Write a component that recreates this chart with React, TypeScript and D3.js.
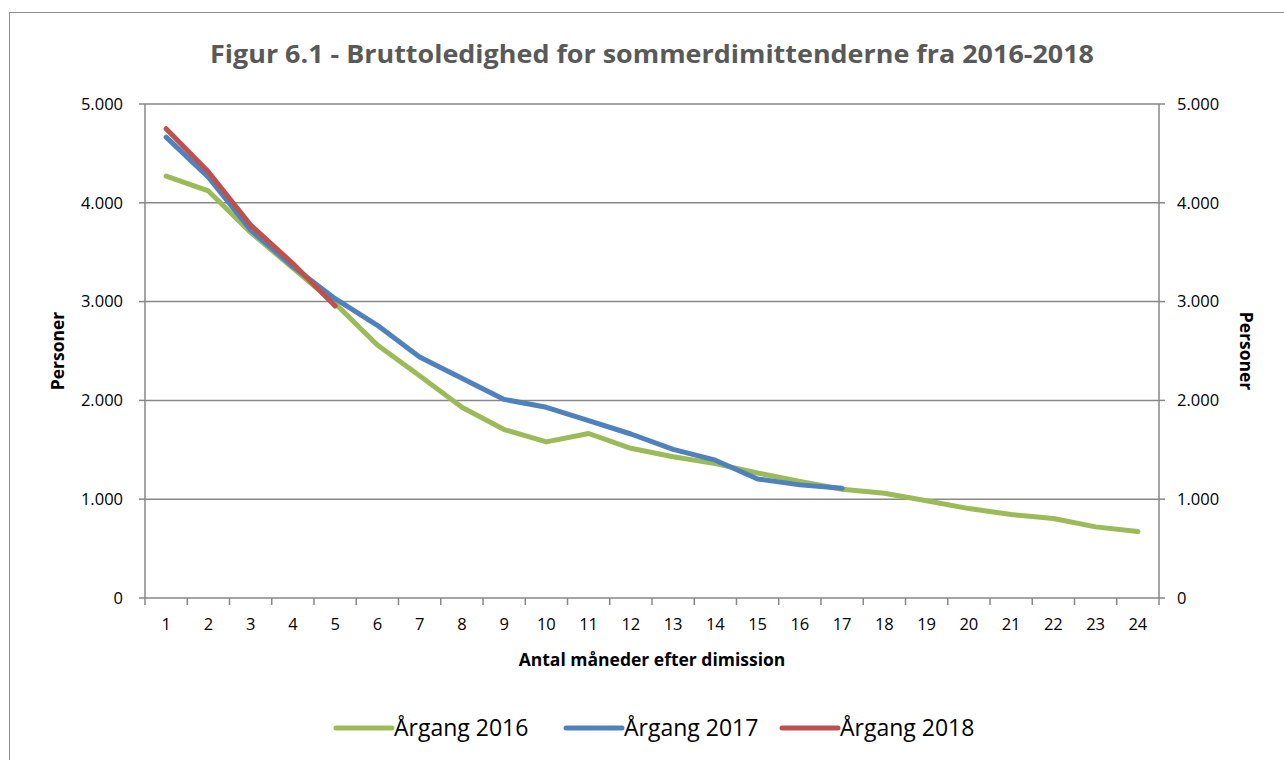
import React from 'react';
import * as d3 from 'd3';

// months after graduation
const months = d3.range(1, 25).map(String);

const aargang2016 = [4270, 4120, 3700, 3340, 2980, 2560, 2250, 1930, 1705, 1580, 1665, 1515, 1430, 1360, 1265, 1180, 1100, 1060, 985, 905, 845, 805, 720, 672];
const aargang2017 = [4665, 4260, 3725, 3355, 3030, 2760, 2440, 2225, 2010, 1930, 1795, 1660, 1505, 1395, 1205, 1145, 1110];
const aargang2018 = [4750, 4315, 3775, 3385, 2955];

const yTicks = [0, 1000, 2000, 3000, 4000, 5000];

const series = [
  { name: 'Årgang 2016', values: aargang2016, color: '#9BBB59' },
  { name: 'Årgang 2017', values: aargang2017, color: '#4F81BD' },
  { name: 'Årgang 2018', values: aargang2018, color: '#C0504D' },
];

const W = 1284;
const H = 760;
const left = 145;
const right = 1159;
const top = 104;
const bottom = 598;
const font = "'Open Sans', 'Noto Sans', sans-serif";
const grid = '#878787';

const fmt = (v: number) => (v === 0 ? '0' : d3.format(',')(v).replace(/,/g, '.'));

const App = () => {
  const x = d3.scaleBand().domain(months).range([left, right]);
  const y = d3.scaleLinear().domain([0, 5000]).range([bottom, top]);
  const cx = (i: number) => (x(months[i]) as number) + x.bandwidth() / 2;

  const line = d3
    .line<number>()
    .x((d, i) => cx(i))
    .y(d => y(d));

  const legendX = [336, 566, 782];

  return (
    <svg width={W} height={H} style={{ position: 'absolute', left: 0, top: 0, background: '#fff' }}>
      <rect x={9.5} y={12.5} width={1400} height={900} fill="#fff" stroke="#8c8c8c" strokeWidth={1} />

      <text x={652} y={63} textAnchor="middle" fontFamily={font} fontWeight="bold" fontSize={25}
        fill="#595959" textLength={884} lengthAdjust="spacingAndGlyphs">
        Figur 6.1 - Bruttoledighed for sommerdimittenderne fra 2016-2018
      </text>

      {/* gridlines */}
      {yTicks.filter(t => t > 0).map(t => (
        <line key={t} x1={left} x2={right} y1={y(t)} y2={y(t)} stroke={grid} strokeWidth={1.5} />
      ))}

      {/* axes */}
      <line x1={left} x2={left} y1={top} y2={bottom} stroke={grid} strokeWidth={1.5} />
      <line x1={right} x2={right} y1={top} y2={bottom} stroke={grid} strokeWidth={1.5} />
      <line x1={left} x2={right} y1={bottom} y2={bottom} stroke={grid} strokeWidth={1.5} />

      {yTicks.map(t => (
        <g key={t}>
          <line x1={left - 6} x2={left} y1={y(t)} y2={y(t)} stroke={grid} strokeWidth={1.5} />
          <line x1={right} x2={right + 6} y1={y(t)} y2={y(t)} stroke={grid} strokeWidth={1.5} />
          <text x={123} y={y(t)} dy="0.35em" textAnchor="end" fontFamily={font} fontSize={16.5} fill="#000">{fmt(t)}</text>
          <text x={1177} y={y(t)} dy="0.35em" textAnchor="start" fontFamily={font} fontSize={16.5} fill="#000">{fmt(t)}</text>
        </g>
      ))}

      {months.map((m, i) => (
        <g key={m}>
          <line x1={x(m)} x2={x(m)} y1={bottom} y2={bottom + 7} stroke={grid} strokeWidth={1.5} />
          <text x={cx(i)} y={630} textAnchor="middle" fontFamily={font} fontSize={16.5} fill="#000">{m}</text>
        </g>
      ))}
      <line x1={right} x2={right} y1={bottom} y2={bottom + 7} stroke={grid} strokeWidth={1.5} />

      <text x={652} y={666} textAnchor="middle" fontFamily={font} fontWeight="bold" fontSize={17.5} fill="#000">
        Antal måneder efter dimission
      </text>
      <text transform={`translate(64,${(top + bottom) / 2}) rotate(-90)`} textAnchor="middle" fontFamily={font}
        fontWeight="bold" fontSize={17.5} fill="#000">Personer</text>
      <text transform={`translate(1240,${(top + bottom) / 2}) rotate(90)`} textAnchor="middle" fontFamily={font}
        fontWeight="bold" fontSize={17.5} fill="#000">Personer</text>

      {/* lines */}
      {series.map(s => (
        <path key={s.name} d={line(s.values) as string} fill="none" stroke={s.color} strokeWidth={5}
          strokeLinejoin="round" strokeLinecap="round" />
      ))}

      {/* legend */}
      {series.map((s, i) => (
        <g key={s.name}>
          <line x1={legendX[i]} x2={legendX[i] + 56} y1={728} y2={728} stroke={s.color} strokeWidth={5} strokeLinecap="round" />
          <text x={legendX[i] + 58} y={728} dy="0.35em" fontFamily={font} fontSize={23} fill="#000">{s.name}</text>
        </g>
      ))}
    </svg>
  );
};

export default App;
